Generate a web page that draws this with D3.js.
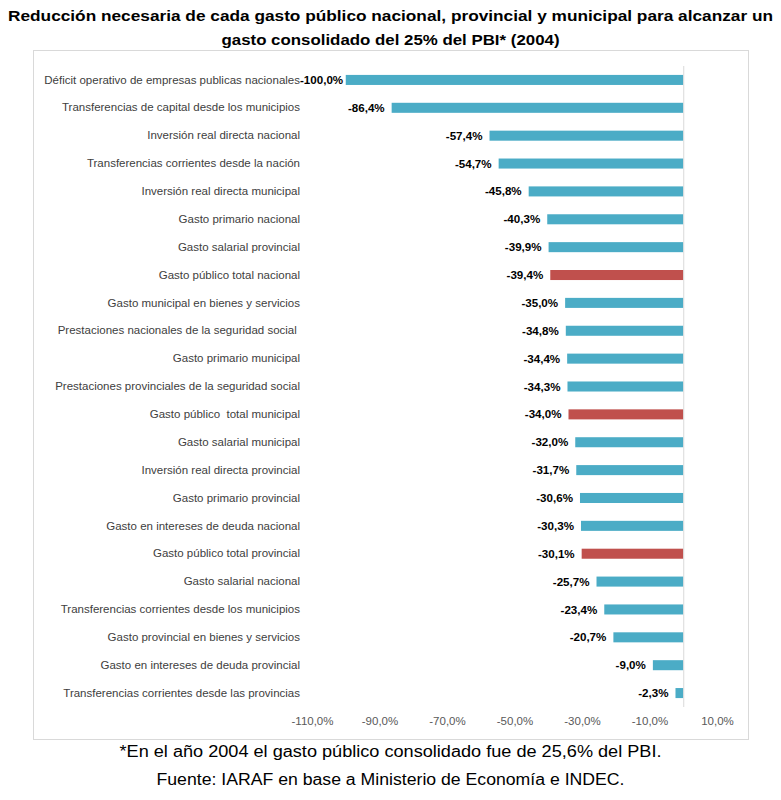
<!DOCTYPE html>
<html><head><meta charset="utf-8">
<script src="https://cdn.jsdelivr.net/npm/d3@7"></script>
<style>body{margin:0;background:#fff}svg{display:block}text{white-space:pre}</style>
</head><body>
<svg id="c" width="781" height="800"></svg>
<script>
const categories = [
"Déficit operativo de empresas publicas nacionales",
"Transferencias de capital desde los municipios",
"Inversión real directa nacional",
"Transferencias corrientes desde la nación",
"Inversión real directa municipal",
"Gasto primario nacional",
"Gasto salarial provincial",
"Gasto público total nacional",
"Gasto municipal en bienes y servicios",
"Prestaciones nacionales de la seguridad social ",
"Gasto primario municipal",
"Prestaciones provinciales de la seguridad social",
"Gasto público  total municipal",
"Gasto salarial municipal",
"Inversión real directa provincial",
"Gasto primario provincial",
"Gasto en intereses de deuda nacional",
"Gasto público total provincial",
"Gasto salarial nacional",
"Transferencias corrientes desde los municipios",
"Gasto provincial en bienes y servicios",
"Gasto en intereses de deuda provincial",
"Transferencias corrientes desde las provincias"
];
const values = [-100.0,-86.4,-57.4,-54.7,-45.8,-40.3,-39.9,-39.4,-35.0,-34.8,-34.4,-34.3,-34.0,-32.0,-31.7,-30.6,-30.3,-30.1,-25.7,-23.4,-20.7,-9.0,-2.3];
const highlighted = ["Gasto público total nacional","Gasto público  total municipal","Gasto público total provincial"];
const tickValues = [-110,-90,-70,-50,-30,-10,10];
const titleLines = ["Reducción necesaria de cada gasto público nacional, provincial y municipal para alcanzar un","gasto consolidado del 25% del PBI* (2004)"];
const footLines = ["*En el año 2004 el gasto público consolidado fue de 25,6% del PBI.","Fuente: IARAF en base a Ministerio de Economía e INDEC."];

const svg = d3.select("#c");
const font = "'Liberation Sans', Arial, sans-serif";
const fmt = v => d3.format(".1f")(v).replace("\u2212","-").replace(".", ",") + "%";

// chart box
svg.append("rect").attr("x",33.5).attr("y",50.5).attr("width",715).attr("height",689)
  .attr("fill","#fff").attr("stroke","#d9d9d9");

const x = d3.scaleLinear().domain([-110,10]).range([312,717]);
const y = d3.scaleBand().domain(categories).range([66,707]).paddingInner(0.64).paddingOuter(0.32);

// title
svg.append("g").selectAll("text").data(titleLines).join("text")
  .attr("x",390.5).attr("y",(d,i)=>21+i*24).attr("text-anchor","middle")
  .attr("font-family",font).attr("font-weight","bold").attr("font-size",15.5).attr("fill","#000")
  .attr("textLength",(d,i)=>i===0?765:338).attr("lengthAdjust","spacingAndGlyphs")
  .text(d=>d);

// bars
svg.append("g").selectAll("rect").data(categories).join("rect")
  .attr("x",(d,i)=>x(values[i])).attr("width",(d,i)=>x(0)-x(values[i]))
  .attr("y",d=>y(d)).attr("height",y.bandwidth())
  .attr("fill",d=>highlighted.includes(d)?"#C0504D":"#4BACC6");

// zero axis line
svg.append("line").attr("x1",x(0)+0.5).attr("x2",x(0)+0.5).attr("y1",66).attr("y2",707)
  .attr("stroke","#d9d9d9").attr("stroke-width",1);

// category labels
const yAxis = d3.axisLeft(y).tickSize(0).tickPadding(0);
const ga = svg.append("g").attr("transform","translate(300,0)").call(yAxis);
ga.select(".domain").remove();
ga.selectAll("text").attr("font-family",font).attr("font-size",11.5).attr("fill","#404040");

// value labels
const vl = svg.append("g").selectAll("text").data(categories).join("text")
  .attr("y",d=>y(d)+y.bandwidth()/2).attr("dy","0.35em")
  .attr("font-family",font).attr("font-weight","bold").attr("font-size",11.6).attr("fill","#000")
  .attr("text-anchor","end")
  .text((d,i)=>fmt(values[i]))
  .attr("x",(d,i)=>x(values[i])-7);
vl.each(function(d,i){
  const w=this.getComputedTextLength();
  const xx = x(values[i])-7;
  if (xx-w < 300) d3.select(this).attr("x",300+w);
});

// x axis
const xAxis = d3.axisBottom(x).tickValues(tickValues).tickSize(0).tickPadding(0).tickFormat(v=>fmt(v));
const gx = svg.append("g").attr("transform","translate(0,717)").call(xAxis);
gx.select(".domain").remove();
gx.selectAll("text").attr("font-family",font).attr("font-size",11.5).attr("fill","#595959");

// footer
svg.append("g").selectAll("text").data(footLines).join("text")
  .attr("x",390.5).attr("y",(d,i)=>757+i*28).attr("text-anchor","middle")
  .attr("font-family",font).attr("font-size",16).attr("fill","#000")
  .attr("textLength",(d,i)=>i===0?542:468).attr("lengthAdjust","spacingAndGlyphs")
  .text(d=>d);
</script>
</body></html>
